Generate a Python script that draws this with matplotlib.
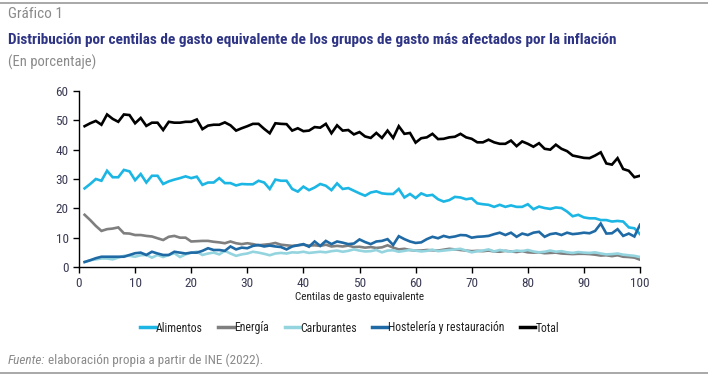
import matplotlib
matplotlib.use("Agg")
import matplotlib.pyplot as plt
from matplotlib.lines import Line2D
from matplotlib import font_manager as fm

names = {f.name for f in fm.fontManager.ttflist}
fam = [n for n in ['Roboto Condensed', 'Liberation Sans Narrow', 'Open Sans Condensed', 'DejaVu Sans Condensed', 'Roboto'] if n in names]
plt.rcParams['font.family'] = fam + ['DejaVu Sans']

centiles = list(range(1, 101))

total = [48, 49, 49.8, 48.5, 52, 50.5, 49.5, 52, 51.8, 49, 50.8, 48.1, 49.2, 49.2, 46.7, 49.5, 49.2, 49.2, 49.5, 49.5,
         50.3, 47, 48.2, 48.5, 48.5, 49.3, 48.3, 46.5, 47.3, 48, 48.8, 48.8, 47.1, 45.6, 49, 48.8, 48.7, 46.5, 47.3, 46.3,
         46.5, 47.7, 47.5, 48.8, 45.6, 48.3, 46.5, 46.7, 45.2, 46, 44.5, 44, 45.7, 44, 46.5, 44, 48, 45.4, 45.7, 42.4,
         43.9, 44.2, 45.4, 43.6, 43.7, 44.2, 44.4, 45.4, 44.2, 43.7, 42.5, 42.5, 43.4, 42.5, 42, 42, 43.1, 41.2, 42.8, 42,
         41, 42.2, 40.3, 40, 41.7, 40.3, 39.5, 38, 37.6, 37.2, 37.1, 38, 39.1, 35.3, 34.9, 37.1, 33.4, 32.8, 30.6, 31.1]

alimentos = [26.8, 28.3, 30, 29.4, 32.8, 30.6, 30.6, 33.1, 32.6, 29.6, 31.7, 28.8, 31.1, 31.1, 28.3, 29.2, 29.8, 30.3, 30.9, 30.3,
             30.8, 28, 28.8, 28.8, 30.3, 28.6, 28.6, 27.8, 28.3, 28.2, 28.2, 29.4, 28.8, 26.6, 29.8, 29.4, 29.4, 26.6, 25.7, 27.4,
             26.2, 27.1, 28.3, 27.7, 26.2, 28.5, 26.6, 26.9, 26, 25.1, 24.3, 25.4, 25.8, 25.1, 24.9, 24.9, 26.6, 23.7, 24.9, 23.5,
             25.1, 24.3, 24.6, 23.1, 22.3, 22.8, 23.9, 23.7, 23.1, 23.4, 21.7, 21.4, 21.2, 20.5, 21.2, 20.5, 21, 20.5, 20.5, 21.4,
             19.7, 20.6, 20.1, 19.8, 20.3, 20.1, 18.9, 17.3, 17.8, 16.9, 16.6, 16.6, 16, 16, 15.5, 15.7, 15.5, 13.5, 13.2, 11.2]

energia = [17.8, 16, 14, 12.3, 12.9, 13.1, 13.5, 11.5, 11.4, 10.9, 10.9, 10.6, 10.4, 9.8, 9.2, 10.3, 10.6, 10, 10, 8.7,
           8.8, 8.9, 8.9, 8.6, 8.4, 8.1, 8.7, 8.1, 7.8, 8.1, 7.8, 7.4, 7.6, 7.8, 8.2, 7.6, 7.4, 7.2, 7.4, 7.6,
           7.3, 7.4, 7.2, 7.6, 7.0, 7.2, 7.0, 7.3, 6.8, 6.9, 6.6, 6.8, 6.5, 6.7, 7.4, 6.6, 6.0, 6.2, 5.8, 5.6,
           5.6, 5.8, 5.7, 5.6, 5.9, 6.2, 6.0, 5.8, 5.6, 5.4, 5.5, 5.4, 5.6, 5.3, 5.2, 5.5, 5.3, 5.1, 5.4, 5.0,
           4.9, 5.0, 4.7, 4.8, 4.9, 4.6, 4.5, 4.4, 4.5, 4.5, 4.4, 4.2, 3.9, 4.0, 3.7, 4.0, 3.5, 3.4, 3.2, 2.5]

carburantes = [1.7, 2.3, 2.6, 2.9, 2.9, 2.6, 3.2, 3.8, 3.8, 3.5, 4.0, 4.1, 3.2, 4.1, 3.4, 4.1, 4.7, 3.4, 4.3, 4.9,
               5.2, 4.1, 4.6, 4.9, 4.3, 5.5, 4.6, 3.8, 4.3, 4.6, 5.2, 4.9, 4.5, 4.0, 4.6, 4.8, 4.6, 5.0, 4.9, 5.2,
               4.8, 5.0, 5.2, 5.0, 5.4, 5.6, 5.2, 5.5, 6.0, 5.6, 5.3, 5.4, 5.8, 5.0, 5.6, 5.7, 5.2, 5.5, 5.8, 5.6,
               5.3, 5.5, 5.9, 5.4, 5.6, 5.8, 6.0, 6.2, 5.6, 5.0, 5.4, 5.6, 6.0, 5.3, 5.8, 5.5, 5.2, 5.6, 5.4, 5.8,
               5.3, 5.0, 5.2, 5.6, 5.2, 5.4, 5.0, 4.8, 5.1, 4.9, 4.8, 5.0, 4.6, 4.3, 4.4, 4.6, 4.2, 4.0, 3.8, 3.4]

hosteleria = [1.7, 2.3, 3.0, 3.5, 3.5, 3.5, 3.5, 3.5, 4.1, 4.7, 4.9, 4.1, 5.2, 4.6, 4.1, 4.1, 5.2, 4.9, 4.6, 4.9,
              4.9, 5.5, 6.4, 5.8, 5.8, 5.5, 7.0, 6.0, 6.6, 6.4, 7.2, 7.5, 7.0, 7.3, 7.0, 6.8, 6.0, 7.0, 7.4, 7.8,
              6.9, 8.7, 7.2, 8.9, 7.8, 8.7, 8.3, 7.8, 8.0, 9.4, 8.5, 7.8, 8.7, 8.9, 9.5, 7.5, 10.5, 9.5, 8.7, 8.2,
              8.4, 9.5, 10.3, 9.8, 10.6, 10.1, 10.4, 10.9, 10.8, 10.0, 10.3, 10.4, 10.6, 11.2, 11.7, 10.9, 11.7, 10.3, 11.4, 10.9,
              11.7, 12.0, 10.3, 11.2, 11.5, 10.9, 11.7, 11.2, 11.4, 11.7, 11.5, 12.3, 14.8, 11.4, 11.5, 12.9, 10.6, 11.4, 10.4, 14.4]

series_names = ["Alimentos", "Energía", "Carburantes", "Hostelería y restauración", "Total"]
series_values = [alimentos, energia, carburantes, hosteleria, total]
colors = ["#1BB6E4", "#7F7F7F", "#94D4DF", "#1F6AA5", "#000000"]

x_ticks = list(range(0, 101, 10))
y_ticks = list(range(0, 61, 10))

W, H = 708, 379
fig = plt.figure(figsize=(W / 100, H / 100), dpi=100)
renderer = fig.canvas.get_renderer()

fig.add_artist(Line2D([0, 1], [1 - 3 / H, 1 - 3 / H], color="#9a9a9a", lw=1.2, transform=fig.transFigure))
fig.add_artist(Line2D([0, 1], [1 - 373 / H, 1 - 373 / H], color="#9a9a9a", lw=1.2, transform=fig.transFigure))

grey_txt = "#8a8a8a"
fig.text(8 / W, 1 - 14 / H, "Gráfico 1", color=grey_txt, fontsize=11, va="center", ha="left")
title = fig.text(8 / W, 1 - 40 / H,
                 "Distribución por centilas de gasto equivalente de los grupos de gasto más afectados por la inflación",
                 color="#2E3485", fontsize=11.5, fontweight="bold", va="center", ha="left")
fig.text(8 / W, 1 - 62 / H, "(En porcentaje)", color=grey_txt, fontsize=10.5, va="center", ha="left")

wpx = title.get_window_extent(renderer).width
if wpx > 612:
    title.set_fontsize(11.5 * 612 / wpx)

left, right, top, bottom = 79, 640, 91, 267
ax = fig.add_axes([left / W, 1 - bottom / H, (right - left) / W, (bottom - top) / H])

for name, vals, c in zip(series_names, series_values, colors):
    ax.plot(centiles, vals, color=c, lw=1.9, label=name, solid_joinstyle="miter")

ax.set_xlim(0, 100)
ax.set_ylim(0, 60)
ax.set_xticks(x_ticks)
ax.set_yticks(y_ticks)
ax.spines["top"].set_visible(False)
ax.spines["right"].set_visible(False)
for s in ("left", "bottom"):
    ax.spines[s].set_color("#000000")
    ax.spines[s].set_linewidth(1.0)
ax.tick_params(axis="both", colors="#000000", labelcolor="#3b3b55", labelsize=9.5, length=4, width=1.0, direction="out")
ax.set_xlabel("Centilas de gasto equivalente", fontsize=8, color="#222222", labelpad=1)

handles = [Line2D([0], [0], color=c, lw=2.5) for c in colors]
fig.legend(handles, series_names, loc="center", bbox_to_anchor=(350 / W, 1 - 328 / H), ncol=5, frameon=False,
           fontsize=8.5, handlelength=1.3, handletextpad=0.05, columnspacing=1.3, labelcolor="#222222")

f1 = fig.text(8 / W, 1 - 360 / H, "Fuente:", color=grey_txt, fontsize=9.5, style="italic", va="center", ha="left")
x_end = f1.get_window_extent(renderer).x1
fig.text((x_end + 3) / W, 1 - 360 / H, "elaboración propia a partir de INE (2022).", color=grey_txt, fontsize=9.5,
         va="center", ha="left")

fig.savefig("out.png", dpi=100)
